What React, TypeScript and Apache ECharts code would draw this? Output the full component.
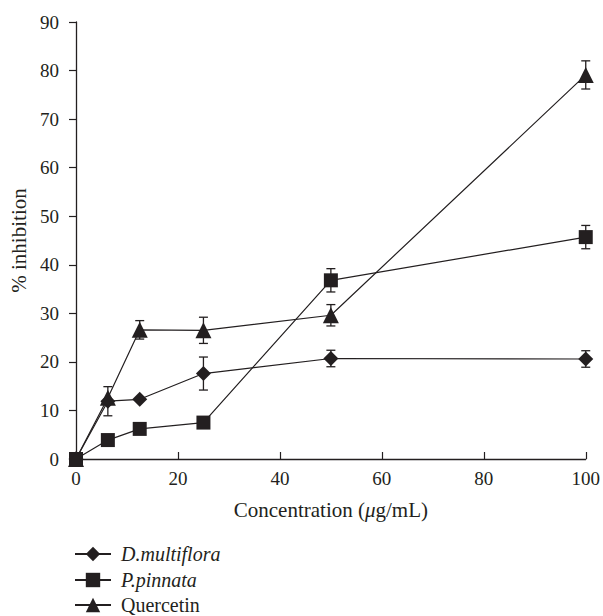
import React, { useEffect, useRef } from "react";
import * as echarts from "echarts";

const concentrations = [0, 6.25, 12.5, 25, 50, 100];
const dMultiflora = [0, 11.9, 12.3, 17.6, 20.7, 20.6];
const dMultifloraErr = [0, 3.0, 0, 3.4, 1.7, 1.7];
const pPinnata = [0, 3.9, 6.2, 7.5, 36.8, 45.7];
const pPinnataErr = [0, 0, 0, 0, 2.4, 2.4];
const quercetin = [0, 12.6, 26.6, 26.5, 29.6, 79.1];
const quercetinErr = [0, 0, 1.9, 2.7, 2.2, 2.9];
const seriesNames = ["D.multiflora", "P.pinnata", "Quercetin"];
const xTicks = [0, 20, 40, 60, 80, 100];
const yTicks = [0, 10, 20, 30, 40, 50, 60, 70, 80, 90];

const INK = "#231f20";
const FONT = "Liberation Serif";

function errData(vals: number[], errs: number[]) {
  return concentrations
    .map((x, i) => [x, vals[i] - errs[i], vals[i] + errs[i]])
    .filter((_, i) => errs[i] > 0);
}

function errSeries(name: string, vals: number[], errs: number[]) {
  return {
    type: "custom",
    name: name + "-err",
    data: errData(vals, errs),
    z: 1,
    silent: true,
    renderItem: (params: any, api: any) => {
      const x = api.value(0);
      const lo = api.coord([x, api.value(1)]);
      const hi = api.coord([x, api.value(2)]);
      const w = 4.5;
      const style = { stroke: INK, lineWidth: 1.3 };
      return {
        type: "group",
        children: [
          { type: "line", shape: { x1: lo[0], y1: lo[1], x2: hi[0], y2: hi[1] }, style },
          { type: "line", shape: { x1: lo[0] - w, y1: lo[1], x2: lo[0] + w, y2: lo[1] }, style },
          { type: "line", shape: { x1: hi[0] - w, y1: hi[1], x2: hi[0] + w, y2: hi[1] }, style },
        ],
      };
    },
  };
}

function lineSeries(name: string, vals: number[], symbol: string, size: number) {
  return {
    type: "line",
    name,
    data: concentrations.map((x, i) => [x, vals[i]]),
    symbol,
    symbolSize: size,
    z: 3,
    lineStyle: { color: INK, width: 1.2 },
    itemStyle: { color: INK, borderWidth: 0 },
  };
}

const legendRowCenters = [553, 579, 604];

function legendFor(i: number) {
  return {
    orient: "vertical",
    left: 74,
    top: legendRowCenters[i] - 9,
    padding: 0,
    itemWidth: 36,
    itemHeight: 18,
    textStyle: {
      fontFamily: FONT,
      fontSize: 20,
      lineHeight: 18,
      color: INK,
      fontStyle: i < 2 ? "italic" : "normal",
      padding: [0, 0, 2, 5],
    },
    data: [seriesNames[i]],
  };
}

export default function App() {
  const ref = useRef<HTMLDivElement>(null);
  useEffect(() => {
    if (!ref.current) return;
    const chart = echarts.init(ref.current, undefined, { renderer: "svg" });
    chart.setOption({
      animation: false,
      backgroundColor: "#ffffff",
      textStyle: { fontFamily: FONT, color: INK },
      grid: { left: 76, right: 16, top: 22, bottom: 157, containLabel: false },
      xAxis: {
        type: "value",
        min: 0,
        max: 100,
        interval: 20,
        name: "Concentration ({i|μ}g/mL)",
        nameLocation: "middle",
        nameGap: 40,
        nameTextStyle: {
          fontFamily: FONT,
          fontSize: 21,
          color: INK,
          rich: { i: { fontFamily: FONT, fontSize: 21, fontStyle: "italic", color: INK } },
        },
        axisLine: { lineStyle: { color: INK, width: 1.3 } },
        axisTick: { inside: true, length: 7, lineStyle: { color: INK, width: 1.2 } },
        axisLabel: {
          fontFamily: FONT,
          fontSize: 19,
          color: INK,
          margin: 10,
          formatter: (v: number) => (xTicks.includes(v) ? String(v) : ""),
        },
        splitLine: { show: false },
      },
      yAxis: {
        type: "value",
        min: 0,
        max: 90,
        interval: 10,
        name: "% inhibition",
        nameLocation: "middle",
        nameGap: 45,
        nameTextStyle: { fontFamily: FONT, fontSize: 21, color: INK },
        axisLine: { show: true, lineStyle: { color: INK, width: 1.3 } },
        axisTick: { show: true, inside: false, length: 7, lineStyle: { color: INK, width: 1.2 } },
        axisLabel: {
          fontFamily: FONT,
          fontSize: 19,
          color: INK,
          margin: 17,
          formatter: (v: number) => (yTicks.includes(v) ? String(v) : ""),
        },
        splitLine: { show: false },
      },
      legend: [legendFor(0), legendFor(1), legendFor(2)],
      series: [
        errSeries(seriesNames[0], dMultiflora, dMultifloraErr),
        errSeries(seriesNames[1], pPinnata, pPinnataErr),
        errSeries(seriesNames[2], quercetin, quercetinErr),
        lineSeries(seriesNames[0], dMultiflora, "diamond", 15),
        lineSeries(seriesNames[1], pPinnata, "rect", 14),
        lineSeries(seriesNames[2], quercetin, "triangle", 16),
      ],
    });
    return () => chart.dispose();
  }, []);
  return (
    <div
      ref={ref}
      style={{ position: "absolute", left: 0, top: 0, width: 603, height: 616 }}
    />
  );
}
